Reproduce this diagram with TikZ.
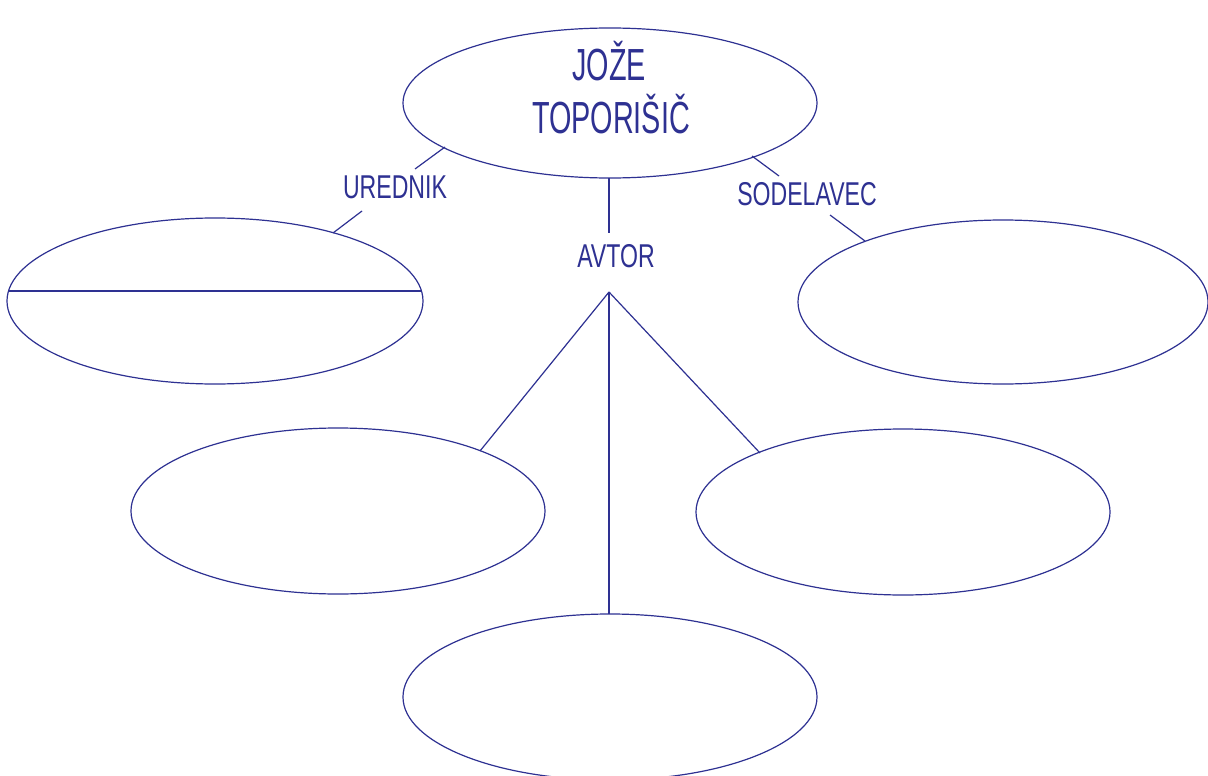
\documentclass[tikz,border=0pt]{standalone}
\usepackage{fontspec}
\setmainfont{Liberation Sans}[FakeStretch=0.7]
\newfontfamily\titlefont{Liberation Sans}[FakeStretch=0.64]
\usetikzlibrary{shapes.geometric}
\definecolor{navy}{HTML}{2E3192}
\begin{document}
\begin{tikzpicture}[x=1pt,y=-1pt,
  oval/.style={ellipse,draw=navy,line width=1.2pt,inner sep=0pt},
  conn/.style={draw=navy,line width=1.2pt},
  bigtxt/.style={text=navy,anchor=base,inner sep=0pt,font=\titlefont\fontsize{45}{52}\selectfont},
  lbl/.style={text=navy,anchor=base,inner sep=0pt,font=\fontsize{33}{40}\selectfont}]
\useasboundingbox[fill=white] (0,0) rectangle (1208,776);
% ellipses
\node[oval,minimum width=414pt,minimum height=150pt] (top) at (610,103) {};
\node[oval,minimum width=416pt,minimum height=166pt] (ured) at (215,301) {};
\node[oval,minimum width=410pt,minimum height=164pt] (sod) at (1003,302) {};
\node[oval,minimum width=414pt,minimum height=166pt] (avl) at (338,511) {};
\node[oval,minimum width=414pt,minimum height=166pt] (avr) at (903,512) {};
\node[oval,minimum width=414pt,minimum height=166pt] (avb) at (610,697) {};
% texts
\node[bigtxt] (t1) at (609,81) {JOŽE};
\node[bigtxt] (t2) at (611,133) {TOPORIŠIČ};
\node[lbl] (lu) at (395,198) {UREDNIK};
\node[lbl] (ls) at (807,205) {SODELAVEC};
\node[lbl] (la) at (616,267) {AVTOR};
% connector end points
\coordinate (u1) at (445,147);
\coordinate (u2) at (415,169);
\coordinate (u3) at (362,211);
\coordinate (u4) at (333,233);
\coordinate (s1) at (752,156);
\coordinate (s2) at (779,176);
\coordinate (s3) at (830,215);
\coordinate (s4) at (865,241);
\coordinate (a1) at (609,178);
\coordinate (a2) at (609,233);
\coordinate (apex) at (609,292);
\coordinate (al) at (480,451);
\coordinate (ar) at (760,453);
\coordinate (ab) at (609,614);
\coordinate (hl) at (8.5,291);
\coordinate (hr) at (421.5,291);
% connectors
\draw[conn] (u1) -- (u2);
\draw[conn] (u3) -- (u4);
\draw[conn] (s1) -- (s2);
\draw[conn] (s3) -- (s4);
\draw[conn] (a1) -- (a2);
\draw[conn] (apex) -- (al);
\draw[conn] (apex) -- (ar);
\draw[conn] (apex) -- (ab);
\draw[conn] (hl) -- (hr);
\end{tikzpicture}
\end{document}
